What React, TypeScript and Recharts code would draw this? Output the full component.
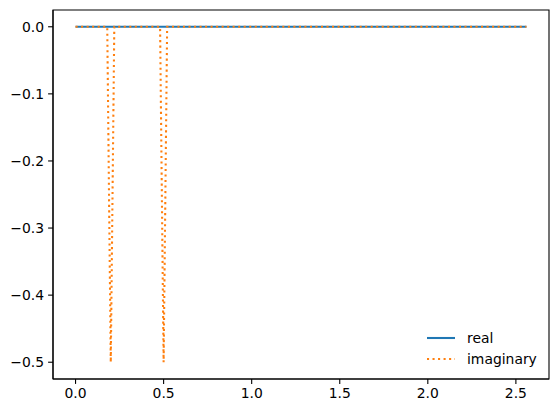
import React from 'react';
import { LineChart, Line, XAxis, YAxis, Legend, ReferenceArea } from 'recharts';

// x positions where the signal changes (the plot is piecewise linear between them)
const xValues = [0, 0.18, 0.2, 0.22, 0.48, 0.5, 0.52, 2.56];
const realValues = [0, 0, 0, 0, 0, 0, 0, 0];
const imaginaryValues = [0, 0, -0.5, 0, 0, -0.5, 0, 0];
const xTicks = [0, 0.5, 1.0, 1.5, 2.0, 2.5];
const yTicks = [0, -0.1, -0.2, -0.3, -0.4, -0.5];
const xDomain: [number, number] = [-0.128, 2.688];
const yDomain: [number, number] = [-0.525, 0.025];

const data = xValues.map((x, i) => ({ x, real: realValues[i], imaginary: imaginaryValues[i] }));

const FONT = 'DejaVu Sans';
const fmt = (v: number) => v.toFixed(1).replace('-', '\u2212');
const tickStyle = { fill: '#000', fontSize: 13.9, fontFamily: FONT };
const lineW = 2.08;
const dotted = '2.08 3.44';

const LegendContent = () => (
  <svg width={130} height={50} style={{ display: 'block' }}>
    <line x1={7} x2={35} y1={13} y2={13} stroke="#1f77b4" strokeWidth={lineW} />
    <text x={47} y={13} dy="0.35em" fontFamily={FONT} fontSize={13.9} fill="#000">real</text>
    <line x1={7} x2={35} y1={34} y2={34} stroke="#ff7f0e" strokeWidth={lineW} strokeDasharray={dotted} />
    <text x={47} y={34} dy="0.35em" fontFamily={FONT} fontSize={13.9} fill="#000">imaginary</text>
  </svg>
);

export default function App() {
  return (
    <div style={{ position: 'absolute', left: 0, top: 0, width: 559, height: 413, background: '#fff' }}>
      <LineChart width={559} height={413} data={data} margin={{ top: 10, right: 10, bottom: 0, left: 0 }}>
        <XAxis
          dataKey="x"
          type="number"
          domain={xDomain}
          allowDataOverflow
          ticks={xTicks}
          tickFormatter={fmt}
          tick={tickStyle}
          tickSize={4.9}
          tickMargin={4}
          height={34}
          axisLine={{ stroke: '#000', strokeWidth: 1.1 }}
          tickLine={{ stroke: '#000', strokeWidth: 1.1 }}
        />
        <YAxis
          type="number"
          domain={yDomain}
          allowDataOverflow
          ticks={yTicks}
          tickFormatter={fmt}
          tick={tickStyle}
          tickSize={4.9}
          tickMargin={4}
          width={53}
          axisLine={{ stroke: '#000', strokeWidth: 1.1 }}
          tickLine={{ stroke: '#000', strokeWidth: 1.1 }}
        />
        <ReferenceArea
          x1={xDomain[0]}
          x2={xDomain[1]}
          y1={yDomain[0]}
          y2={yDomain[1]}
          fill="none"
          fillOpacity={0}
          stroke="#000"
          strokeWidth={1.1}
          ifOverflow="visible"
        />
        <Line
          dataKey="real"
          name="real"
          type="linear"
          stroke="#1f77b4"
          strokeWidth={lineW}
          dot={false}
          activeDot={false}
          isAnimationActive={false}
        />
        <Line
          dataKey="imaginary"
          name="imaginary"
          type="linear"
          stroke="#ff7f0e"
          strokeWidth={lineW}
          strokeDasharray={dotted}
          dot={false}
          activeDot={false}
          isAnimationActive={false}
        />
        <Legend
          layout="vertical"
          align="center"
          verticalAlign="middle"
          content={<LegendContent />}
          wrapperStyle={{ position: 'absolute', left: 420, top: 325, width: 130, height: 50 }}
        />
      </LineChart>
    </div>
  );
}
